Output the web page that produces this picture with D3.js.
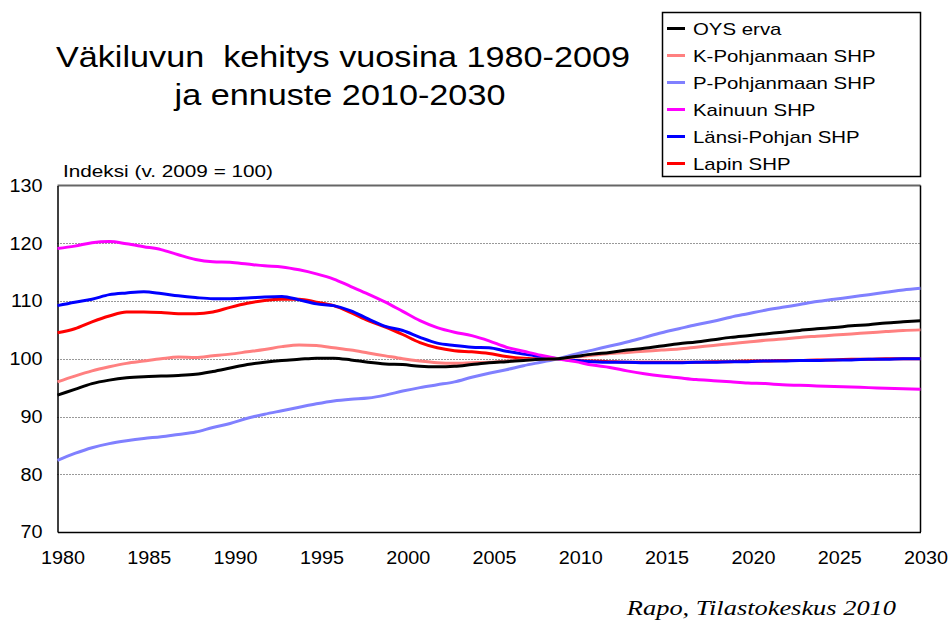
<!DOCTYPE html>
<html>
<head>
<meta charset="utf-8">
<script src="https://cdn.jsdelivr.net/npm/d3@7"></script>
<style>
  body { margin: 0; background: #fff; }
  text { font-family: "Liberation Sans", Arial, sans-serif; }
</style>
</head>
<body>
<div id="chart"></div>
<script>
const width = 952;
const height = 620;

// years 1980..2030
const years = d3.range(1980, 2031);

const oysErva = [
  93.7, 94.7, 95.7, 96.3, 96.7, 96.9, 97.0, 97.1, 97.3, 97.8,
  98.4, 99.0, 99.4, 99.7, 99.9, 100.1, 100.1, 99.8, 99.4, 99.1,
  99.0, 98.7, 98.6, 98.7, 99.0, 99.3, 99.5, 99.7, 99.9, 100.0,
  100.4, 100.8, 101.1, 101.5, 101.8, 102.2, 102.6, 102.9, 103.3, 103.7,
  104.0, 104.3, 104.6, 104.9, 105.2, 105.4, 105.7, 105.9, 106.2, 106.4,
  106.6
];
const kPohjanmaa = [
  96.0, 97.0, 97.9, 98.6, 99.2, 99.6, 100.0, 100.3, 100.2, 100.5,
  100.8, 101.2, 101.6, 102.1, 102.4, 102.3, 101.9, 101.5, 101.0, 100.5,
  100.0, 99.6, 99.3, 99.2, 99.3, 99.4, 99.6, 99.8, 99.9, 100.0,
  100.3, 100.6, 100.9, 101.1, 101.3, 101.5, 101.7, 102.0, 102.3, 102.6,
  102.9, 103.2, 103.4, 103.7, 103.9, 104.1, 104.3, 104.5, 104.7, 104.9,
  105.0
];
const pPohjanmaa = [
  82.4, 83.6, 84.6, 85.3, 85.8, 86.2, 86.5, 86.9, 87.3, 88.1,
  88.8, 89.7, 90.4, 91.0, 91.6, 92.2, 92.7, 93.0, 93.2, 93.7,
  94.4, 95.0, 95.5, 96.0, 96.8, 97.5, 98.1, 98.8, 99.4, 100.0,
  100.8, 101.5, 102.2, 102.9, 103.7, 104.5, 105.2, 105.9, 106.5, 107.2,
  107.8, 108.4, 108.9, 109.4, 109.9, 110.3, 110.7, 111.1, 111.5, 111.9,
  112.2
];
const kainuu = [
  119.1, 119.5, 120.1, 120.3, 119.9, 119.4, 118.9, 118.0, 117.2, 116.8,
  116.7, 116.4, 116.1, 115.9, 115.4, 114.7, 113.8, 112.5, 111.2, 109.8,
  108.2, 106.6, 105.4, 104.6, 104.0, 103.1, 102.0, 101.3, 100.6, 100.0,
  99.5, 98.9, 98.5, 97.9, 97.4, 97.0, 96.7, 96.4, 96.2, 96.0,
  95.8, 95.7, 95.5, 95.4, 95.3, 95.2, 95.1, 95.0, 94.9, 94.8,
  94.7
];
const lansiPohja = [
  109.2, 109.8, 110.3, 111.1, 111.4, 111.6, 111.3, 110.9, 110.6, 110.4,
  110.4, 110.5, 110.7, 110.8, 110.2, 109.5, 109.2, 108.3, 106.9, 105.6,
  104.9, 103.7, 102.7, 102.3, 102.0, 101.9, 101.3, 100.8, 100.4, 100.0,
  99.7, 99.5, 99.4, 99.4, 99.3, 99.3, 99.3, 99.4, 99.4, 99.5,
  99.5, 99.6, 99.6, 99.7, 99.7, 99.8, 99.8, 99.9, 99.9, 100.0,
  100.0
];
const lappi = [
  104.5, 105.2, 106.4, 107.4, 108.1, 108.1, 108.0, 107.8, 107.8, 108.1,
  108.9, 109.6, 110.1, 110.3, 110.3, 109.8, 109.2, 108.0, 106.6, 105.5,
  104.2, 102.8, 101.9, 101.4, 101.2, 100.9, 100.4, 100.1, 100.0, 100.0,
  99.7, 99.6, 99.5, 99.4, 99.4, 99.4, 99.4, 99.4, 99.5, 99.5,
  99.6, 99.6, 99.7, 99.7, 99.8, 99.8, 99.9, 99.9, 100.0, 100.0,
  100.0
];

const seriesNames = [
  "OYS erva",
  "K-Pohjanmaan SHP",
  "P-Pohjanmaan SHP",
  "Kainuun SHP",
  "Länsi-Pohjan SHP",
  "Lapin SHP"
];
const seriesValues = [oysErva, kPohjanmaa, pPohjanmaa, kainuu, lansiPohja, lappi];
const colors = ["#000000", "#ff8080", "#8080ff", "#ff00ff", "#0000ff", "#ff0000"];

const xTicks = d3.range(1980, 2031, 5);
const yTicks = d3.range(70, 131, 10);

const margin = { left: 57.5, right: 920.5, top: 185.5, bottom: 532 };

const svg = d3
  .select("#chart")
  .append("svg")
  .attr("width", width)
  .attr("height", height);

const x = d3.scaleLinear().domain([1980, 2030]).range([margin.left, margin.right]);
const y = d3.scaleLinear().domain([70, 130]).range([margin.bottom, margin.top]);

// the original font is wider than Liberation Sans, so widen the text a bit
function widen(sel, factor) {
  sel.each(function () {
    const w = this.getComputedTextLength();
    d3.select(this)
      .attr("textLength", w * factor)
      .attr("lengthAdjust", "spacingAndGlyphs");
  });
}

// title
svg.append("text")
  .attr("x", 343)
  .attr("y", 67)
  .attr("text-anchor", "middle")
  .style("font-size", "30px")
  .style("white-space", "pre")
  .text("Väkiluvun  kehitys vuosina 1980-2009")
  .call(widen, 1.14);
svg.append("text")
  .attr("x", 340)
  .attr("y", 105)
  .attr("text-anchor", "middle")
  .style("font-size", "30px")
  .text("ja ennuste 2010-2030")
  .call(widen, 1.14);

svg.append("text")
  .attr("x", 63)
  .attr("y", 177)
  .style("font-size", "17px")
  .text("Indeksi (v. 2009 = 100)")
  .call(widen, 1.22);

// gridlines
svg.append("g")
  .selectAll("line")
  .data(yTicks.filter((d) => d > 70 && d < 130))
  .enter()
  .append("line")
  .attr("x1", margin.left)
  .attr("x2", margin.right)
  .attr("y1", (d) => Math.round(y(d)) + 0.5)
  .attr("y2", (d) => Math.round(y(d)) + 0.5)
  .attr("stroke", "#333")
  .attr("stroke-width", 1)
  .attr("stroke-dasharray", "1,2");

// plot frame
svg.append("line")
  .attr("x1", margin.left).attr("x2", margin.right)
  .attr("y1", margin.top).attr("y2", margin.top)
  .attr("stroke", "#666").attr("stroke-width", 2);
svg.append("line")
  .attr("x1", margin.right).attr("x2", margin.right)
  .attr("y1", margin.top).attr("y2", margin.bottom)
  .attr("stroke", "#000").attr("stroke-width", 1.5);

// y axis
const yAxis = svg.append("g")
  .attr("transform", `translate(${margin.left},0)`)
  .call(d3.axisLeft(y).tickValues(yTicks).tickSize(0).tickPadding(15));
yAxis.select(".domain").attr("stroke", "#000").attr("stroke-width", 1.5);
yAxis.selectAll("text")
  .style("font-size", "18px")
  .style("font-family", "Liberation Sans, Arial, sans-serif")
  .attr("fill", "#000")
  .call(widen, 1.1);

// x axis
const xAxis = svg.append("g")
  .attr("transform", `translate(0,${margin.bottom})`)
  .call(d3.axisBottom(x).tickValues(xTicks).tickFormat(d3.format("d")).tickSize(0).tickPadding(19));
xAxis.select(".domain").attr("stroke", "#000").attr("stroke-width", 1.5);
xAxis.selectAll("text")
  .attr("dx", 5)
  .style("font-size", "18px")
  .style("font-family", "Liberation Sans, Arial, sans-serif")
  .attr("fill", "#000")
  .call(widen, 1.1);

// lines (drawn last series first so OYS erva sits on top)
const line = d3.line()
  .x((d, i) => x(years[i]))
  .y((d) => y(d))
  .curve(d3.curveMonotoneX);

svg.append("g")
  .selectAll("path")
  .data(d3.range(seriesValues.length).reverse())
  .enter()
  .append("path")
  .attr("d", (i) => line(seriesValues[i]))
  .attr("fill", "none")
  .attr("stroke", (i) => colors[i])
  .attr("stroke-width", 3)
  .attr("stroke-linejoin", "round");

// legend
const legend = svg.append("g");
legend.append("rect")
  .attr("x", 662.5)
  .attr("y", 12.5)
  .attr("width", 258)
  .attr("height", 164)
  .attr("fill", "#fff")
  .attr("stroke", "#000")
  .attr("stroke-width", 1.5);

const item = legend.selectAll("g.item")
  .data(seriesNames)
  .enter()
  .append("g")
  .attr("class", "item")
  .attr("transform", (d, i) => `translate(0,${28.5 + i * 27})`);
item.append("line")
  .attr("x1", 667).attr("x2", 685)
  .attr("stroke", (d, i) => colors[i])
  .attr("stroke-width", 3);
item.append("text")
  .attr("x", 693)
  .attr("y", 6)
  .style("font-size", "17px")
  .text((d) => d)
  .call(widen, 1.2);

// source
svg.append("text")
  .attr("x", 896)
  .attr("y", 615)
  .attr("text-anchor", "end")
  .style("font-family", "Liberation Serif, Times New Roman, serif")
  .style("font-style", "italic")
  .style("font-size", "22px")
  .text("Rapo, Tilastokeskus 2010")
  .call(widen, 1.2);
</script>
</body>
</html>
